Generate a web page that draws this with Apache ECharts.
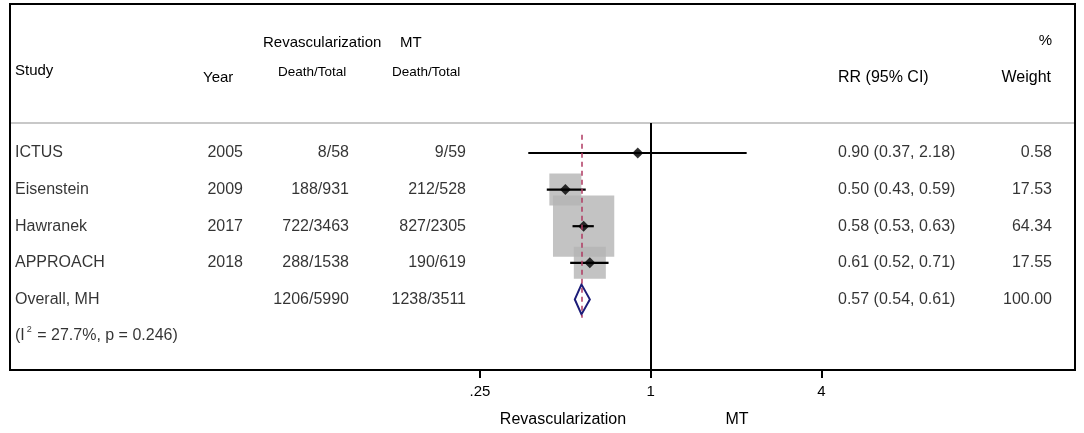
<!DOCTYPE html>
<html lang="en">
<head>
<meta charset="UTF-8">
<script src="https://cdn.jsdelivr.net/npm/echarts@6/dist/echarts.min.js"></script>
<title>Forest plot</title>
<style>
html,body{margin:0;padding:0;background:#fff;}
#chart{width:1084px;height:433px;}
</style>
</head>
<body>
<div id="chart"></div>
<script>
// study rows (last one is the pooled estimate)
var studies = ['ICTUS', 'Eisenstein', 'Hawranek', 'APPROACH', 'Overall, MH'];
var years   = ['2005', '2009', '2017', '2018', ''];
var revasc  = ['8/58', '188/931', '722/3463', '288/1538', '1206/5990'];
var mt      = ['9/59', '212/528', '827/2305', '190/619', '1238/3511'];
var rr      = [0.90, 0.50, 0.58, 0.61, 0.57];
var lo      = [0.37, 0.43, 0.53, 0.52, 0.54];
var hi      = [2.18, 0.59, 0.63, 0.71, 0.61];
var weight  = [0.58, 17.53, 64.34, 17.55, 100.00];
var hetero  = '(I{s|2} = 27.7%, p = 0.246)';
var tickValues = [0.25, 1, 4];
var tickLabels = ['.25', '1', '4'];

var FONT = '"Liberation Sans", Arial, sans-serif';
var nStudy = studies.length - 1;
var L2 = function (v) { return Math.log(v) / Math.LN2; };

var chart = echarts.init(document.getElementById('chart'));

function textCol(x, texts, align, size) {
    return {
        type: 'scatter', xAxisIndex: 1, yAxisIndex: 0, silent: true,
        symbolSize: 1, itemStyle: {color: 'rgba(0,0,0,0)'},
        data: texts.map(function (t, i) { return [x, i]; }),
        label: {
            show: true, position: 'inside', align: align, verticalAlign: 'middle',
            color: '#000', fontFamily: FONT, fontSize: size || 16,
            formatter: function (p) { return texts[p.dataIndex]; }
        },
        z: 10
    };
}

var rrText = rr.map(function (v, i) {
    return v.toFixed(2) + ' (' + lo[i].toFixed(2) + ', ' + hi[i].toFixed(2) + ')';
});
var wText = weight.map(function (v) { return v.toFixed(2); });
var studyIdx = studies.slice(0, nStudy).map(function (s, i) { return i; });

function hText(t, x, y, align, size) {
    return {
        type: 'text', silent: true,
        style: {text: t, x: x, y: y, align: align, verticalAlign: 'middle',
                fill: '#000', fontFamily: FONT, fontSize: size || 15}
    };
}

var option = {
    animation: false,
    backgroundColor: '#fff',
    grid: {left: 10, right: 9, top: 123, bottom: 63},
    xAxis: [{
        type: 'value', min: (10 - 650.7) / 85.35, max: (1075 - 650.7) / 85.35,
        splitLine: {show: false},
        axisLine: {show: true, onZero: false, lineStyle: {color: '#000', width: 2}},
        axisTick: {show: true, length: 8, lineStyle: {color: '#000', width: 2},
                   customValues: tickValues.map(L2)},
        axisLabel: {
            customValues: tickValues.map(L2), margin: 14,
            color: '#000', fontFamily: FONT, fontSize: 15,
            formatter: function (v) {
                for (var k = 0; k < tickValues.length; k++) {
                    if (Math.abs(L2(tickValues[k]) - v) < 1e-6) return tickLabels[k];
                }
                return '';
            }
        }
    }, {
        type: 'value', min: 10, max: 1075, show: false
    }],
    yAxis: {
        type: 'value', inverse: true, min: -0.82, max: 5.93, show: false
    },
    graphic: [
        {type: 'rect', silent: true, shape: {x: 10, y: 4, width: 1065, height: 366},
         style: {fill: 'none', stroke: '#000', lineWidth: 2}},
        {type: 'line', silent: true, shape: {x1: 11, y1: 123, x2: 1074, y2: 123},
         style: {stroke: '#c8c8c8', lineWidth: 2}},
        hText('Revascularization', 263, 43, 'left'),
        hText('MT', 400, 43, 'left'),
        hText('%', 1052, 41, 'right'),
        hText('Study', 15, 71, 'left'),
        hText('Year', 203, 78, 'left'),
        hText('Death/Total', 278, 72, 'left', 13.5),
        hText('Death/Total', 392, 72, 'left', 13.5),
        hText('RR (95% CI)', 838, 78, 'left', 16),
        hText('Weight', 1051, 78, 'right', 16),
        hText('Revascularization', 563, 420, 'center', 16),
        hText('MT', 737, 420, 'center', 16)
    ],
    series: [
        {   // weight boxes
            type: 'scatter', symbol: 'rect', silent: true,
            data: studyIdx.map(function (i) { return [L2(rr[i]), i]; }),
            symbolSize: function (v, p) { return 7.64 * Math.sqrt(weight[p.dataIndex]); },
            itemStyle: {color: '#b4b4b4'},
            z: 1,
            markLine: {
                silent: true, symbol: 'none', label: {show: false},
                lineStyle: {color: '#000', width: 2, type: 'solid'},
                data: [{xAxis: 0}]
            }
        },
        {   // confidence intervals
            type: 'custom', silent: true, z: 2,
            data: studyIdx.map(function (i) { return [L2(lo[i]), L2(hi[i]), i]; }),
            encode: {x: [0, 1], y: 2},
            renderItem: function (params, api) {
                var a = api.coord([api.value(0), api.value(2)]);
                var b = api.coord([api.value(1), api.value(2)]);
                return {type: 'line', shape: {x1: a[0], y1: a[1], x2: b[0], y2: b[1]},
                        style: {stroke: '#000', lineWidth: 2.2}};
            },
            markLine: {
                silent: true, symbol: 'none', label: {show: false},
                lineStyle: {color: '#b03a62', width: 1.5, type: [5, 4]},
                data: [[{coord: [L2(rr[nStudy]), -0.5]}, {coord: [L2(rr[nStudy]), nStudy + 0.5]}]]
            }
        },
        {   // point estimates
            type: 'scatter', symbol: 'diamond', symbolSize: 11, silent: true, z: 3,
            data: studyIdx.map(function (i) { return [L2(rr[i]), i]; }),
            itemStyle: {color: '#000'}
        },
        {   // pooled diamond
            type: 'custom', silent: true, z: 3,
            data: [[L2(lo[nStudy]), L2(rr[nStudy]), L2(hi[nStudy]), nStudy]],
            encode: {x: [0, 1, 2], y: 3},
            renderItem: function (params, api) {
                var y = api.value(3);
                var pts = [
                    api.coord([api.value(0), y]),
                    api.coord([api.value(1), y - 0.41]),
                    api.coord([api.value(2), y]),
                    api.coord([api.value(1), y + 0.41])
                ];
                return {type: 'polygon', shape: {points: pts},
                        style: {fill: '#fff', stroke: '#1c1c78', lineWidth: 2}};
            }
        },
        textCol(15, studies, 'left'),
        textCol(243, years, 'right'),
        textCol(349, revasc, 'right'),
        textCol(466, mt, 'right'),
        textCol(838, rrText, 'left'),
        textCol(1052, wText, 'right'),
        {
            type: 'scatter', xAxisIndex: 1, yAxisIndex: 0, silent: true,
            symbolSize: 1, itemStyle: {color: 'rgba(0,0,0,0)'},
            data: [[15, nStudy + 1]],
            label: {
                show: true, position: 'inside', align: 'left', verticalAlign: 'middle',
                color: '#000', fontFamily: FONT, fontSize: 16, lineHeight: 22,
                formatter: hetero,
                rich: {s: {fontSize: 9, lineHeight: 9, verticalAlign: 'top', padding: [0, 1, 0, 2],
                           fontFamily: FONT, color: '#000'}}
            },
            z: 10
        }
    ]
};
chart.setOption(option);
</script>
</body>
</html>
